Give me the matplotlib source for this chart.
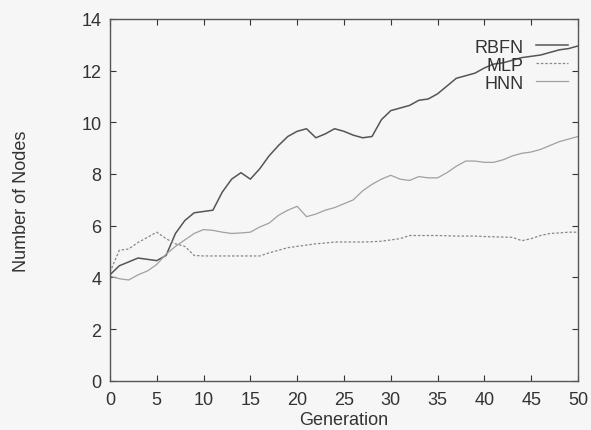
import matplotlib
matplotlib.use('Agg')
import matplotlib.pyplot as plt
import numpy as np

plt.rcParams['font.family'] = ['Liberation Sans', 'DejaVu Sans']

# Data
generation = np.arange(0, 51)
rbfn = [4.1, 4.45, 4.6, 4.75, 4.7, 4.65, 4.85, 5.7, 6.2, 6.5,
        6.55, 6.6, 7.3, 7.8, 8.05, 7.8, 8.2, 8.7, 9.1, 9.45,
        9.65, 9.75, 9.4, 9.55, 9.75, 9.65, 9.5, 9.4, 9.45, 10.1,
        10.45, 10.55, 10.65, 10.85, 10.9, 11.1, 11.4, 11.7, 11.8, 11.9,
        12.1, 12.25, 12.3, 12.4, 12.5, 12.55, 12.6, 12.7, 12.8, 12.85,
        12.95]
mlp = [4.2, 5.05, 5.1, 5.35, 5.55, 5.75, 5.5, 5.3, 5.2, 4.85,
       4.83, 4.83, 4.83, 4.83, 4.83, 4.83, 4.83, 4.95, 5.05, 5.15,
       5.2, 5.25, 5.3, 5.33, 5.37, 5.37, 5.37, 5.37, 5.38, 5.4,
       5.45, 5.5, 5.62, 5.62, 5.62, 5.62, 5.61, 5.6, 5.6, 5.6,
       5.58, 5.57, 5.56, 5.55, 5.42, 5.5, 5.62, 5.7, 5.72, 5.75,
       5.75]
hnn = [4.05, 3.95, 3.9, 4.1, 4.25, 4.5, 4.9, 5.2, 5.45, 5.7,
       5.85, 5.82, 5.75, 5.7, 5.72, 5.75, 5.95, 6.1, 6.4, 6.6,
       6.75, 6.35, 6.45, 6.6, 6.7, 6.85, 7.0, 7.35, 7.6, 7.8,
       7.95, 7.8, 7.75, 7.9, 7.85, 7.85, 8.05, 8.3, 8.5, 8.5,
       8.45, 8.45, 8.55, 8.7, 8.8, 8.85, 8.95, 9.1, 9.25, 9.35,
       9.45]

bg = '#f6f6f6'
fs = 13
txt = '#333333'
fig = plt.figure(figsize=(5.91, 4.31), dpi=100, facecolor=bg)
ax = fig.add_axes([0.186, 0.114, 0.792, 0.840], facecolor=bg)

ax.plot(generation, rbfn, color='#555555', lw=1.1, label='RBFN')
ax.plot(generation, mlp, color='#888888', lw=0.9, ls=(0, (2, 1.5)), label='MLP')
ax.plot(generation, hnn, color='#a0a0a0', lw=0.9, label='HNN')

ax.set_xlim(0, 50)
ax.set_ylim(0, 14)
ax.set_xticks(range(0, 51, 5))
ax.set_yticks(range(0, 15, 2))
ax.tick_params(direction='in', top=True, right=True, length=4,
               labelsize=fs, colors=txt)
ax.tick_params(axis='y', pad=6)
ax.tick_params(axis='x', pad=7)
for s in ax.spines.values():
    s.set_color('#555555')
    s.set_linewidth(1.0)

ax.set_xlabel('Generation', fontsize=fs, color=txt)
ax.xaxis.set_label_coords(0.5, -0.083)
ax.set_ylabel('Number of Nodes', fontsize=fs, color=txt)
ax.yaxis.set_label_coords(-0.17, 0.5)

leg = ax.legend(loc='upper right', bbox_to_anchor=(0.979, 0.945),
                frameon=False, markerfirst=False, fontsize=fs,
                handlelength=1.8, labelspacing=0.05, borderpad=0,
                borderaxespad=0, handletextpad=0.65)
for t in leg.get_texts():
    t.set_color(txt)

fig.savefig('out.png', dpi=100, facecolor=bg)
